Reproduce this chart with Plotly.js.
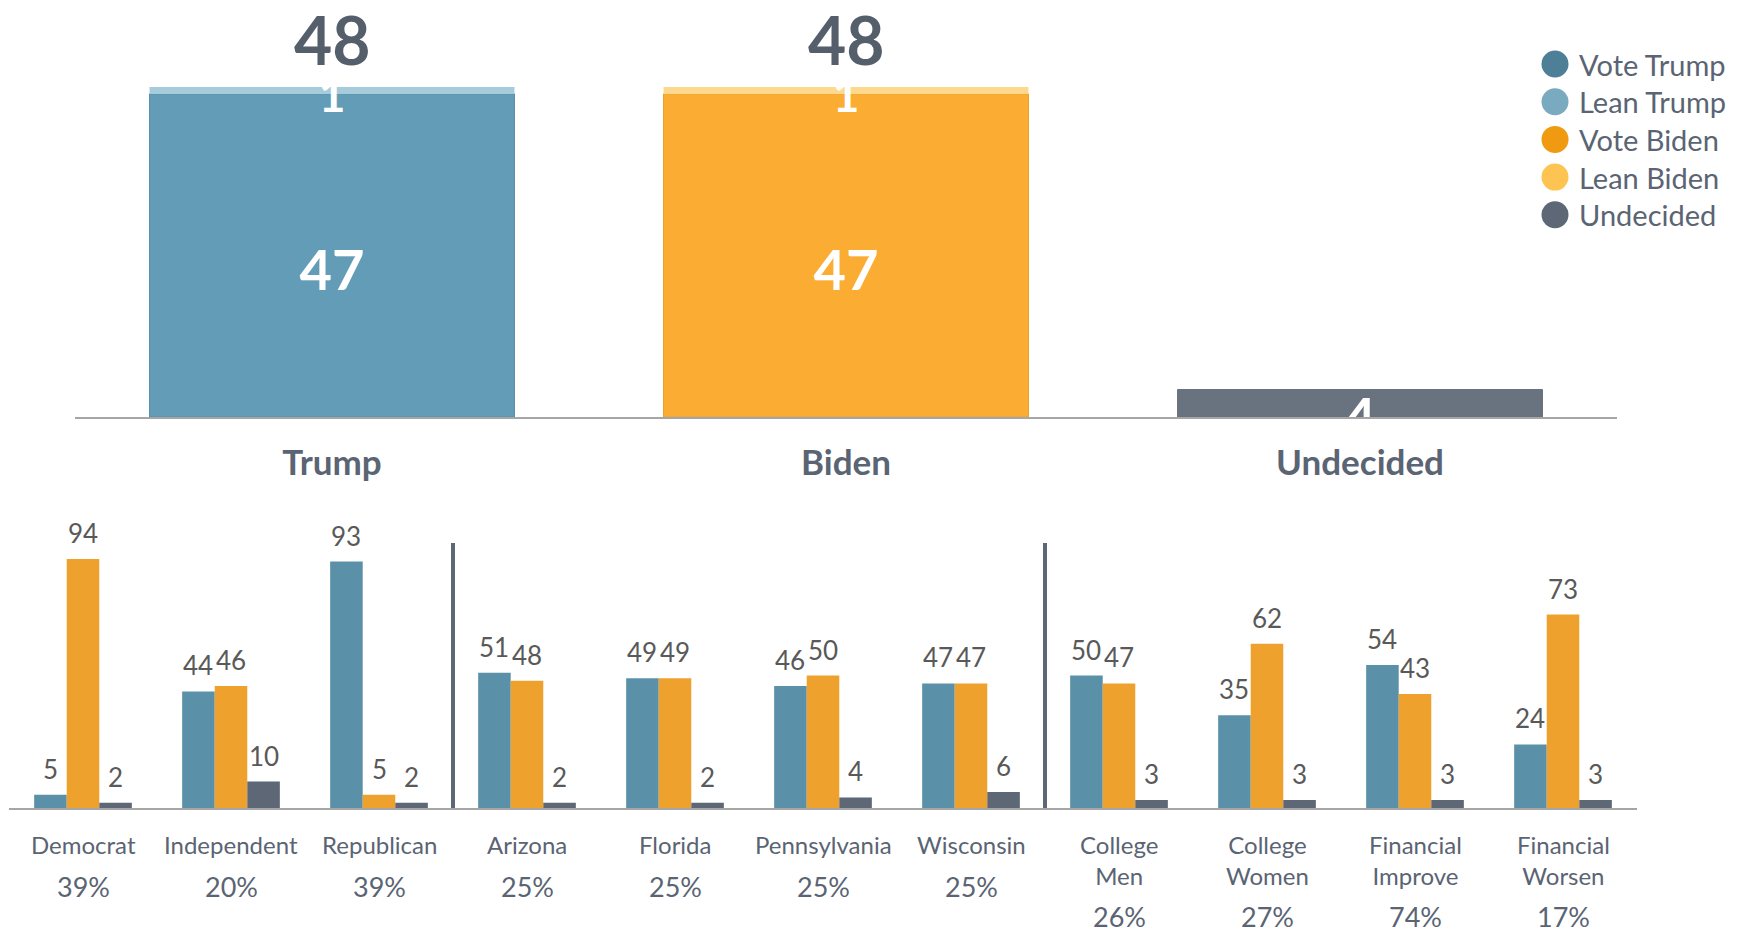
<!DOCTYPE html>
<html>
<head>
<meta charset="utf-8">
<script src="https://cdn.plot.ly/plotly-3.0.1.min.js"></script>
<style>
html,body{margin:0;padding:0;background:#fff;}
#chart{width:1748px;height:932px;}
</style>
</head>
<body>
<div id="chart"></div>
<script>
// ---------- data ----------
const topCategories = ["Trump", "Biden", "Undecided"];
const topVote = [47, 47, 4];
const topLean = [1, 1, 0];

const groupNames = ["Democrat", "Independent", "Republican", "Arizona", "Florida", "Pennsylvania", "Wisconsin",
  "College<br>Men", "College<br>Women", "Financial<br>Improve", "Financial<br>Worsen"];
const groupShares = ["39%", "20%", "39%", "25%", "25%", "25%", "25%", "26%", "27%", "74%", "17%"];
const trumpVals = [5, 44, 93, 51, 49, 46, 47, 50, 35, 54, 24];
const bidenVals = [94, 46, 5, 48, 49, 50, 47, 47, 62, 43, 73];
const undecidedVals = [2, 10, 2, 2, 2, 4, 6, 3, 3, 3, 3];
const separatorsAfter = [2, 6];

const legendLabels = ["Vote Trump", "Lean Trump", "Vote Biden", "Lean Biden", "Undecided"];

// ---------- styles ----------
const W = 1748, H = 932;
const FONT = "Lato, 'Open Sans', sans-serif";
const SLATE = "#5a6473";
const topVoteColors = ["#629cb6", "#fbad33", "#68737f"];
const topVoteLine = ["#5690aa", "#e9a22e", "#68737f"];
const topLeanColors = ["#a6cbda", "#fdd98f", "#ffffff"];
const bottomColors = ["#5a91a8", "#eea22d", "#5d6776"];
const legendColors = ["#4e7f96", "#7aaabf", "#ef9a10", "#fdc451", "#5d6776"];

const px = x => x / W;
const py = y => 1 - y / H;

// ---------- traces ----------
const traces = [];
traces.push({
  type: "bar", x: topCategories, y: topVote, xaxis: "x", yaxis: "y",
  width: 0.71, offset: -0.355,
  marker: {color: topVoteColors, line: {color: topVoteLine, width: 1}},
  showlegend: false, hoverinfo: "skip"
});
traces.push({
  type: "bar", x: topCategories, y: topLean, base: topVote, xaxis: "x", yaxis: "y",
  width: 0.71, offset: -0.355,
  marker: {color: topLeanColors, line: {width: 0}},
  showlegend: false, hoverinfo: "skip"
});
// white in-bar labels (vote segments)
const voteLblY = topVote.map(v => v / 2 - 3.0);
traces.push({
  type: "scatter", mode: "text", x: topCategories, y: voteLblY, text: topVote.map(String),
  xaxis: "x", yaxis: "y",
  textfont: {family: FONT, size: 56, color: "#ffffff", weight: 700},
  textposition: "middle center", showlegend: false, hoverinfo: "skip"
});
// white in-bar labels (lean segments)
const leanX = [], leanY = [], leanT = [];
topCategories.forEach((c, i) => {
  if (topLean[i] > 0) { leanX.push(c); leanY.push(topVote[i] + topLean[i] / 2 - 1.4); leanT.push(String(topLean[i])); }
});
traces.push({
  type: "scatter", mode: "text", x: leanX, y: leanY, text: leanT, xaxis: "x", yaxis: "y",
  textfont: {family: FONT, size: 46, color: "#ffffff", weight: 700},
  textposition: "middle center", showlegend: false, hoverinfo: "skip"
});

const bottomSeries = [trumpVals, bidenVals, undecidedVals];
bottomSeries.forEach((vals, k) => {
  traces.push({
    type: "bar", x: groupNames, y: vals, xaxis: "x2", yaxis: "y2",
    marker: {color: bottomColors[k], line: {width: 0}},
    showlegend: false, hoverinfo: "skip"
  });
});

// ---------- annotations & shapes ----------
const annotations = [];
const shapes = [];

topCategories.forEach((c, i) => {
  if (topLean[i] > 0) {
    annotations.push({
      xref: "x", yref: "y", x: c, y: topVote[i] + topLean[i], yshift: 48,
      xanchor: "center", yanchor: "middle", showarrow: false,
      text: String(topVote[i] + topLean[i]),
      font: {family: FONT, size: 66, color: "#555f6b", weight: 700}
    });
  }
});

const barW = 0.22;
bottomSeries.forEach((vals, k) => {
  vals.forEach((v, i) => {
    annotations.push({
      xref: "x2", yref: "y2", x: i + (k - 1) * barW, y: v, yshift: 26,
      xanchor: "center", yanchor: "middle", showarrow: false,
      text: String(v), font: {family: FONT, size: 26, color: "#595959"}
    });
  });
});

groupNames.forEach((n, i) => {
  const lines = n.split("<br>").length;
  annotations.push({
    xref: "x2", yref: "y2", x: i, y: 0, yshift: -20,
    xanchor: "center", yanchor: "top", showarrow: false,
    text: n, font: {family: FONT, size: 24, color: SLATE}
  });
  annotations.push({
    xref: "x2", yref: "y2", x: i, y: 0, yshift: -78 - 30 * (lines - 1),
    xanchor: "center", yanchor: "middle", showarrow: false,
    text: groupShares[i], font: {family: FONT, size: 27, color: SLATE}
  });
});

separatorsAfter.forEach(i => {
  shapes.push({
    type: "line", xref: "x2", yref: "y2", x0: i + 0.5, x1: i + 0.5, y0: 0, y1: 100,
    line: {color: "#5d6776", width: 4}
  });
});

legendLabels.forEach((lab, i) => {
  const cy = 64 + 37.7 * i;
  shapes.push({
    type: "circle", xref: "paper", yref: "paper",
    xsizemode: "pixel", ysizemode: "pixel",
    xanchor: px(1555), yanchor: py(cy),
    x0: -13.5, x1: 13.5, y0: -13.5, y1: 13.5,
    fillcolor: legendColors[i], line: {width: 0}
  });
  annotations.push({
    xref: "paper", yref: "paper", x: px(1577), y: py(cy),
    xanchor: "left", yanchor: "middle", showarrow: false,
    text: lab, font: {family: FONT, size: 29, color: SLATE}
  });
});

// ---------- layout ----------
const layout = {
  width: W, height: H,
  margin: {l: 0, r: 0, t: 0, b: 0},
  paper_bgcolor: "#ffffff", plot_bgcolor: "rgba(0,0,0,0)",
  barmode: "group", bargap: 0.34, bargroupgap: 0,
  showlegend: false,
  font: {family: FONT, color: SLATE},
  xaxis: {
    domain: [px(75), px(1617)], anchor: "y", type: "category", range: [-0.5, 2.5],
    showline: true, linecolor: "#a6a6a6", linewidth: 2, showgrid: false, zeroline: false,
    ticks: "", ticklabelstandoff: 14,
    tickfont: {family: FONT, size: 35, color: SLATE, weight: 700}, fixedrange: true
  },
  yaxis: {
    domain: [py(417), py(4.5)], anchor: "x", range: [0, 60], visible: false, fixedrange: true
  },
  xaxis2: {
    domain: [px(9), px(1637)], anchor: "y2", type: "category", range: [-0.5, 10.5],
    showline: true, linecolor: "#a6a6a6", linewidth: 2, showgrid: false, zeroline: false,
    ticks: "", showticklabels: false, fixedrange: true
  },
  yaxis2: {
    domain: [py(808), py(543)], anchor: "x2", range: [0, 100], visible: false, fixedrange: true
  },
  annotations: annotations,
  shapes: shapes
};

Plotly.newPlot("chart", traces, layout, {staticPlot: true, displayModeBar: false});
</script>
</body>
</html>
